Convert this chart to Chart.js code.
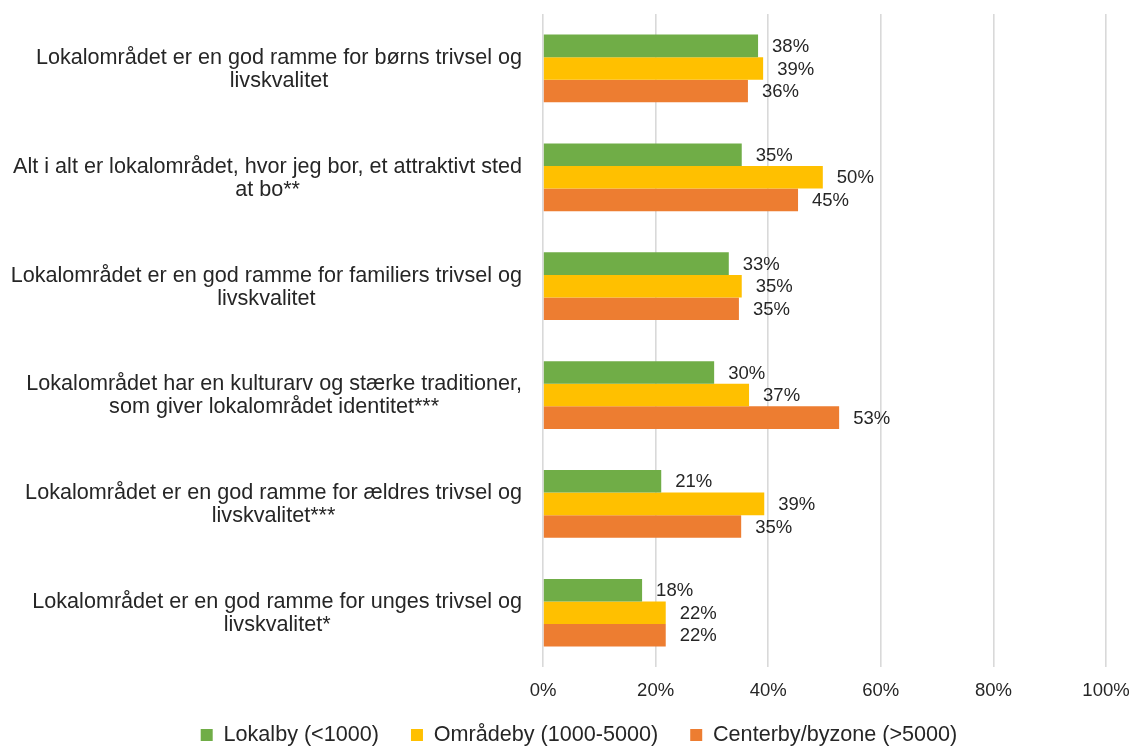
<!DOCTYPE html>
<html>
<head>
<meta charset="utf-8">
<script src="https://cdn.jsdelivr.net/npm/chart.js@4/dist/chart.umd.min.js"></script>
<style>
  html, body { margin: 0; padding: 0; background: #fff; overflow: hidden; }
  #wrap { width: 1133px; height: 747px; position: relative; }
</style>
</head>
<body>
<div id="wrap"><canvas id="chart"></canvas></div>
<script>
// Statements (y-axis categories), split into two lines like the original
const categories = [
  ['Lokalområdet er en god ramme for børns trivsel og', 'livskvalitet'],
  ['Alt i alt er lokalområdet, hvor jeg bor, et attraktivt sted', 'at bo**'],
  ['Lokalområdet er en god ramme for familiers trivsel og', 'livskvalitet'],
  ['Lokalområdet har en kulturarv og stærke traditioner,', 'som giver lokalområdet identitet***'],
  ['Lokalområdet er en god ramme for ældres trivsel og', 'livskvalitet***'],
  ['Lokalområdet er en god ramme for unges trivsel og', 'livskvalitet*']
];

// Share agreeing (%) per town size
const lokalby = [38.2, 35.3, 33.0, 30.4, 21.0, 17.6];
const omraadeby = [39.1, 49.7, 35.3, 36.6, 39.3, 21.8];
const centerby = [36.4, 45.3, 34.8, 52.6, 35.2, 21.8];

const seriesNames = ['Lokalby (<1000)', 'Områdeby (1000-5000)', 'Centerby/byzone (>5000)'];
const tickValues = [0, 20, 40, 60, 80, 100];

const FONT = "'Liberation Sans', Arial, sans-serif";
const TEXT = '#262626';

// Draw value labels to the right of every bar
const valueLabels = {
  id: 'valueLabels',
  afterDatasetsDraw(chart) {
    const ctx = chart.ctx;
    ctx.save();
    ctx.font = '18.5px ' + FONT;
    ctx.fillStyle = TEXT;
    ctx.textAlign = 'left';
    ctx.textBaseline = 'middle';
    chart.data.datasets.forEach((ds, i) => {
      const meta = chart.getDatasetMeta(i);
      meta.data.forEach((bar, j) => {
        ctx.fillText(Math.round(ds.data[j]) + '%', bar.x + 14, bar.y + 1);
      });
    });
    ctx.restore();
  }
};

// Category labels: each block centred on itself, right edge next to the axis
const categoryLabels = {
  id: 'categoryLabels',
  afterDraw(chart) {
    const ctx = chart.ctx;
    const y = chart.scales.y;
    const right = chart.chartArea.left - 21;
    const lineH = 23;
    ctx.save();
    ctx.font = '21.6px ' + FONT;
    ctx.fillStyle = TEXT;
    ctx.textAlign = 'center';
    ctx.textBaseline = 'middle';
    categories.forEach((lines, i) => {
      const w = Math.max(...lines.map(l => ctx.measureText(l).width));
      const cx = right - w / 2;
      const cy = y.getPixelForTick(i) + 1;
      lines.forEach((l, k) => {
        ctx.fillText(l, cx, cy + (k - (lines.length - 1) / 2) * lineH);
      });
    });
    ctx.restore();
  }
};

const ctx = document.getElementById('chart').getContext('2d');
new Chart(ctx, {
  type: 'bar',
  data: {
    labels: categories,
    datasets: [
      { label: seriesNames[0], data: lokalby, backgroundColor: '#70AD47' },
      { label: seriesNames[1], data: omraadeby, backgroundColor: '#FFC000' },
      { label: seriesNames[2], data: centerby, backgroundColor: '#ED7D31' }
    ]
  },
  options: {
    indexAxis: 'y',
    responsive: true,
    maintainAspectRatio: false,
    animation: false,
    barPercentage: 1,
    categoryPercentage: 0.622,
    layout: { padding: { top: 14, right: 27, bottom: -8.8, left: 52 } },
    scales: {
      x: {
        min: 0,
        max: 100,
        afterBuildTicks(scale) {
          scale.ticks = tickValues.map(v => ({ value: v }));
        },
        afterFit(scale) {
          scale.height = 25;
          scale.paddingLeft = 0;
          scale.paddingRight = 0;
          // labels hang into the legend's empty top padding, so skip the clip
          scale._computeLabelArea = () => undefined;
        },
        grid: { color: '#d9d9d9', lineWidth: 1.6, drawTicks: false },
        border: { display: false },
        ticks: {
          padding: 13,
          color: TEXT,
          font: { family: FONT, size: 18.5 },
          callback: v => v + '%'
        }
      },
      y: {
        grid: { display: false },
        border: { display: false },
        ticks: { display: false },
        afterFit(scale) {
          scale.width = 491;
          scale.paddingTop = 0;
          scale.paddingBottom = 0;
        }
      }
    },
    plugins: {
      legend: {
        position: 'bottom',
        labels: {
          boxWidth: 12,
          boxHeight: 12,
          padding: 32,
          color: TEXT,
          font: { family: FONT, size: 21.6 }
        }
      },
      tooltip: { enabled: false }
    }
  },
  plugins: [valueLabels, categoryLabels]
});
</script>
</body>
</html>
